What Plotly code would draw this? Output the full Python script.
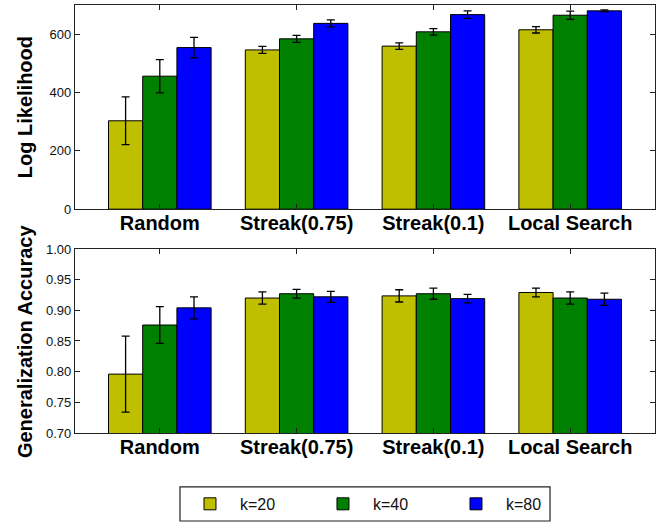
import plotly.graph_objects as go
from plotly.subplots import make_subplots

categories = ["Random", "Streak(0.75)", "Streak(0.1)", "Local Search"]
series_names = ["k=20", "k=40", "k=80"]
colors = ["#bfbf00", "#008000", "#0000ff"]

ll_values = [
    [303, 546, 559, 615],
    [456, 584, 608, 665],
    [554, 637, 667, 680],
]
ll_errors = [
    [82, 12, 11, 11],
    [57, 12, 11, 14],
    [35, 12, 13, 3],
]
acc_values = [
    [0.796, 0.920, 0.9235, 0.929],
    [0.876, 0.927, 0.927, 0.920],
    [0.904, 0.922, 0.919, 0.918],
]
acc_errors = [
    [0.062, 0.010, 0.010, 0.007],
    [0.030, 0.007, 0.009, 0.010],
    [0.018, 0.009, 0.007, 0.010],
]

fig = make_subplots(rows=2, cols=1, vertical_spacing=0.0)

for i, name in enumerate(series_names):
    for row, vals, errs in ((1, ll_values, ll_errors), (2, acc_values, acc_errors)):
        fig.add_trace(go.Bar(
            x=categories, y=vals[i], name=name,
            marker=dict(color=colors[i], line=dict(color="black", width=1)),
            error_y=dict(type="data", array=errs[i], color="black", thickness=1.3, width=4),
            showlegend=(row == 1),
            legendgroup=name,
        ), row=row, col=1)

font_family = "Liberation Sans, Arial, sans-serif"
axis_common = dict(showline=True, linecolor="#222", linewidth=1.2, mirror="ticks",
                   ticks="inside", ticklen=5, tickcolor="#222", showgrid=False, zeroline=False)

fig.update_layout(
    width=660, height=523,
    margin=dict(l=75, r=5, t=5, b=90, autoexpand=False),
    plot_bgcolor="white", paper_bgcolor="white",
    barmode="group", bargap=0.25, bargroupgap=0.0,
    font=dict(family=font_family, size=13, color="#111"),
    legend=dict(orientation="h", x=0.181, xanchor="left", y=-0.126, yanchor="top",
                borderwidth=0, bgcolor="rgba(0,0,0,0)", font=dict(size=16),
                entrywidth=68, entrywidthmode="pixels", itemwidth=50),
)

# legend frame
fig.add_shape(type="rect", xref="paper", yref="paper",
              x0=0.181, x1=0.819, y0=-0.2056, y1=-0.126,
              line=dict(color="#222", width=1.2), fillcolor="rgba(0,0,0,0)")

fig.update_xaxes(**axis_common, range=[-0.62, 3.62], ticklabelstandoff=-4,
                 tickfont=dict(size=20, family=font_family, weight="bold", color="black"))
fig.update_yaxes(**axis_common)

fig.update_layout(
    xaxis=dict(domain=[0, 1]),
    yaxis=dict(domain=[0.523, 1.0], range=[0, 700], tickvals=[0, 200, 400, 600]),
    xaxis2=dict(domain=[0, 1]),
    yaxis2=dict(domain=[0.0, 0.43], range=[0.70, 1.00],
                tickvals=[0.70, 0.75, 0.80, 0.85, 0.90, 0.95, 1.00], tickformat=".2f"),
)

fig.add_annotation(text="<b>Log Likelihood</b>", textangle=-90, xref="paper", yref="paper",
                   x=-0.086, y=(1 + 0.523) / 2, xanchor="center", yanchor="middle",
                   showarrow=False, font=dict(size=20, family=font_family, color="black"))
fig.add_annotation(text="<b>Generalization Accuracy</b>", textangle=-90, xref="paper", yref="paper",
                   x=-0.086, y=0.215, xanchor="center", yanchor="middle",
                   showarrow=False, font=dict(size=20, family=font_family, color="black"))

fig.write_html("out.html")
